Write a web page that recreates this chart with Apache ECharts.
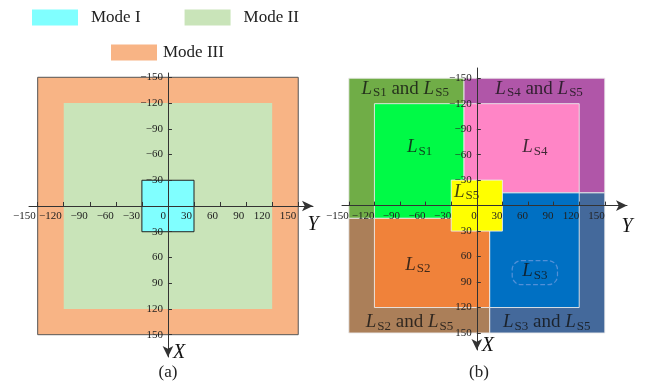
<!DOCTYPE html>
<html><head><meta charset="utf-8">
<script src="https://cdn.jsdelivr.net/npm/echarts@6/dist/echarts.min.js"></script>
<style>html,body{margin:0;padding:0;background:#fff}#c{width:647px;height:388px}</style>
</head><body><div id="c"></div>
<script>
// ---- data ----
const tickValues = [-150, -120, -90, -60, -30, 0, 30, 60, 90, 120, 150];
const vLabelValues = [-150, -120, -90, -60, -30, 30, 60, 90, 120, 150];
// panel (a) regions: [Ymin, Ymax, Xmin, Xmax]
const modeNames = ['Mode I', 'Mode II', 'Mode III'];
const modeI = [[-30, 30, -30, 30]];
const modeII = [[-120, 120, -120, 120]];
const modeIII = [[-150, 150, -150, 150]];
// panel (b) regions: [Ymin, Ymax, Xmin, Xmax]  order: S1&S5, S4&S5, S3&S5, S2&S5
const outerRegions = [[-150, -15, -150, 15], [-15, 150, -150, -15], [15, 150, -15, 150], [-150, 15, 15, 150]];
// order: S1, S4, S3, S2
const innerRegions = [[-120, -15, -120, 15], [-15, 120, -120, -15], [15, 120, -15, 120], [-120, 15, 15, 120]];
const centerRegion = [[-30, 30, -30, 30]];
// panel (b) labels
const bLabelText = ['L_S1 and L_S5', 'L_S4 and L_S5', 'L_S2 and L_S5', 'L_S3 and L_S5', 'L_S1', 'L_S4', 'L_S2', 'L_S5'];
const bLabelY = [-84, 73, -79, 82, -67, 68, -69, -12];
const bLabelX = [-137, -137, 138, 138, -68, -68, 70, -16];
const boxedLabelText = ['L_S3'];
const boxedLabelY = [68];
const boxedLabelX = [79];

// ---- styles / layout ----
const SERIF = 'Liberation Serif';
const modeColors = ['#80FFFF', '#C9E4B9', '#F8B485'];
const outerColors = ['#70AD47', '#B056A8', '#44699B', '#AB7F59'];
const innerColors = ['#00FA46', '#FF85C6', '#0070C3', '#F0823A'];
const centerColor = '#FFFF00';
const grids = [
  { left: 29, top: 73, width: 284, height: 284 },
  { left: 342, top: 68, width: 285, height: 282 }
];
const hRange = [[-160, 167], [-158, 176]];
const vRange = [[-155, 176], [-162, 170]];

function rectShape(api) {
  const p0 = api.coord([api.value(0), api.value(2)]);
  const p1 = api.coord([api.value(1), api.value(3)]);
  return {
    x: Math.min(p0[0], p1[0]), y: Math.min(p0[1], p1[1]),
    width: Math.abs(p1[0] - p0[0]), height: Math.abs(p1[1] - p0[1])
  };
}
function styledRect(colors, stroke, lw) {
  return function (params, api) {
    return { type: 'rect', shape: rectShape(api),
      style: { fill: colors[params.dataIndex], stroke: stroke, lineWidth: lw } };
  };
}
function modeRect(params, api) {
  return { type: 'rect', shape: rectShape(api), style: api.style() };
}
function toPairs(ys, xs) { return ys.map((v, i) => [v, xs[i]]); }
function fmtTick(v) { return v < 0 ? '\u2212' + Math.abs(v) : String(v); }
function richLabel(t) {
  return t.replace(/ and /g, '{t| and }').replace(/L_(S\d)/g, '{i|L}{s|$1}');
}
const richStyles = {
  i: { fontFamily: SERIF, fontStyle: 'italic', fontSize: 19, color: '#111', lineHeight: 20, verticalAlign: 'top' },
  t: { fontFamily: SERIF, fontSize: 19, color: '#111', lineHeight: 20, verticalAlign: 'top' },
  s: { fontFamily: SERIF, fontSize: 13, color: '#111', lineHeight: 14, verticalAlign: 'top', padding: [7, 0, 0, 1] }
};

function hAxis(gi, padR, namePad) {
  const g = grids[gi], r = hRange[gi], vr = vRange[gi];
  const zeroFromBottom = g.height * (vr[1] - 0) / (vr[1] - vr[0]);
  return {
    type: 'value', gridIndex: gi, min: r[0], max: r[1], position: 'bottom', offset: -zeroFromBottom, z: 10,
    axisLine: { onZero: false, lineStyle: { color: '#333', width: 1 }, symbol: ['none', 'arrow'], symbolSize: [8, 11] },
    axisTick: { show: true, inside: true, length: 4, customValues: tickValues, lineStyle: { color: '#333' } },
    axisLabel: { customValues: tickValues, formatter: fmtTick, align: 'right', margin: 5, padding: [0, padR, 0, 0],
      fontFamily: SERIF, fontSize: 11, color: '#222' },
    splitLine: { show: false },
    name: 'Y', nameLocation: 'end', nameGap: 0, nameMoveOverlap: false,
    nameTextStyle: { fontFamily: SERIF, fontStyle: 'italic', fontSize: 20, color: '#111', align: 'center', verticalAlign: 'top', padding: [namePad, 0, 0, 0] }
  };
}
function vAxis(gi) {
  const g = grids[gi], r = vRange[gi], hr = hRange[gi];
  const zeroFromLeft = g.width * (0 - hr[0]) / (hr[1] - hr[0]);
  return {
    type: 'value', gridIndex: gi, min: r[0], max: r[1], inverse: true, position: 'left', offset: -zeroFromLeft, z: 10,
    axisLine: { onZero: false, lineStyle: { color: '#333', width: 1 }, symbol: ['arrow', 'none'], symbolSize: [8, 11] },
    axisTick: { show: true, inside: true, length: 4, customValues: vLabelValues, lineStyle: { color: '#333' } },
    axisLabel: { customValues: vLabelValues, formatter: fmtTick, margin: 5,
      fontFamily: SERIF, fontSize: 11, color: '#222' },
    splitLine: { show: false },
    name: 'X', nameLocation: 'end', nameGap: -4, nameMoveOverlap: false,
    nameTextStyle: { fontFamily: SERIF, fontStyle: 'italic', fontSize: 20, color: '#111', align: 'left', verticalAlign: 'middle', padding: [0, 0, 0, 5] }
  };
}

const chart = echarts.init(document.getElementById('c'));
chart.setOption({
  animation: false,
  backgroundColor: '#fff',
  legend: [
    { data: ['Mode I', 'Mode II'], left: 27, top: 4, itemWidth: 46, itemHeight: 16, itemGap: 44, icon: 'rect',
      itemStyle: { borderWidth: 0 }, textStyle: { fontFamily: SERIF, fontSize: 17, color: '#222', padding: [0, 0, 0, 8] } },
    { data: ['Mode III'], left: 106, top: 39, itemWidth: 46, itemHeight: 16, icon: 'rect',
      itemStyle: { borderWidth: 0 }, textStyle: { fontFamily: SERIF, fontSize: 17, color: '#222', padding: [0, 0, 0, 1] } }
  ],
  grid: grids,
  xAxis: [hAxis(0, 2, 9), hAxis(1, 0, 11)],
  yAxis: [vAxis(0), vAxis(1)],
  graphic: [
    { type: 'text', x: 168, y: 373, style: { text: '(a)', font: '17px "Liberation Serif"', fill: '#222', textAlign: 'center', textVerticalAlign: 'middle' } },
    { type: 'text', x: 479, y: 373, style: { text: '(b)', font: '17px "Liberation Serif"', fill: '#222', textAlign: 'center', textVerticalAlign: 'middle' } }
  ],
  series: [
    { type: 'custom', name: modeNames[2], xAxisIndex: 0, yAxisIndex: 0, renderItem: modeRect, data: modeIII,
      itemStyle: { color: modeColors[2], borderColor: '#555', borderWidth: 1 } },
    { type: 'custom', name: modeNames[1], xAxisIndex: 0, yAxisIndex: 0, renderItem: modeRect, data: modeII,
      itemStyle: { color: modeColors[1], borderWidth: 0 } },
    { type: 'custom', name: modeNames[0], xAxisIndex: 0, yAxisIndex: 0, renderItem: modeRect, data: modeI,
      itemStyle: { color: modeColors[0], borderColor: '#222', borderWidth: 1 } },
    { type: 'custom', name: 'outer', xAxisIndex: 1, yAxisIndex: 1, renderItem: styledRect(outerColors, 'rgba(235,235,235,0.9)', 1), data: outerRegions },
    { type: 'custom', name: 'inner', xAxisIndex: 1, yAxisIndex: 1, renderItem: styledRect(innerColors, 'rgba(235,235,235,0.9)', 1), data: innerRegions },
    { type: 'custom', name: 'center', xAxisIndex: 1, yAxisIndex: 1, renderItem: styledRect([centerColor], 'rgba(235,235,235,0.9)', 1), data: centerRegion },
    { type: 'scatter', name: 'labels', xAxisIndex: 1, yAxisIndex: 1, symbolSize: 0, z: 5,
      data: toPairs(bLabelY, bLabelX),
      label: { show: true, position: 'inside', formatter: p => richLabel(bLabelText[p.dataIndex]), rich: richStyles } },
    { type: 'scatter', name: 'boxed', xAxisIndex: 1, yAxisIndex: 1, symbolSize: 0, z: 5,
      data: toPairs(boxedLabelY, boxedLabelX),
      label: { show: true, position: 'inside', formatter: p => richLabel(boxedLabelText[p.dataIndex]), rich: richStyles,
        borderColor: 'rgba(120,160,225,0.85)', borderWidth: 1.2, borderType: 'dashed', borderRadius: 9, padding: [1, 10, 3, 10] } }
  ]
});
</script></body></html>
